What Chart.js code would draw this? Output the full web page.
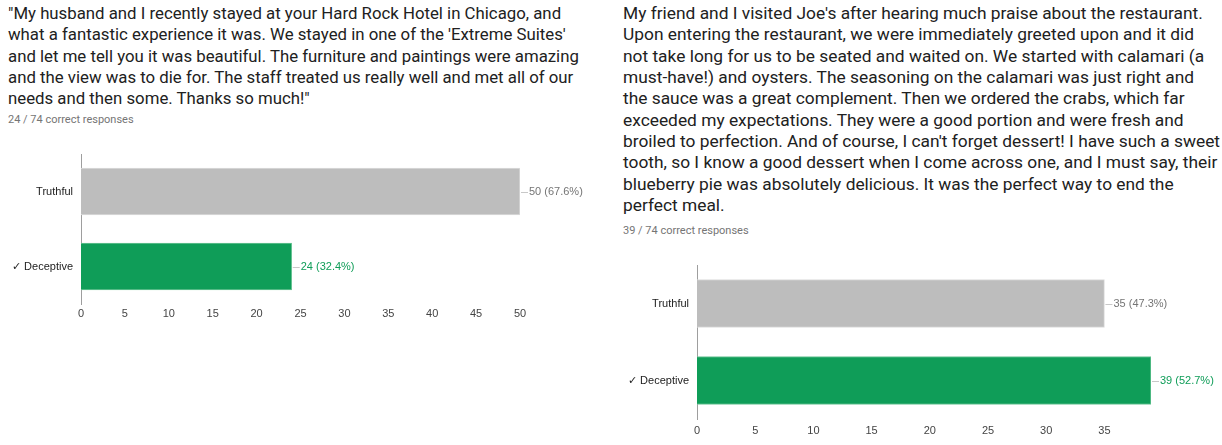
<!DOCTYPE html>
<html>
<head>
<meta charset="utf-8">
<script src="https://cdn.jsdelivr.net/npm/chart.js@4"></script>
<style>
  html, body { margin:0; padding:0; background:#fff; }
  body { width:1222px; height:445px; position:relative; overflow:hidden; }
  .para { position:absolute; font-family: Roboto, "Noto Sans", sans-serif; line-height:21.33px; color:#212121; white-space:nowrap; }
  .resp { position:absolute; font-family: Roboto, "Noto Sans", sans-serif; font-size:11px; color:#757575; white-space:nowrap; }
  canvas.full { position:absolute; left:0; top:0; }
</style>
</head>
<body>
<div class="para" style="left:8px; top:3px; font-size:16.8px;">"My husband and I recently stayed at your Hard Rock Hotel in Chicago, and<br>what a fantastic experience it was. We stayed in one of the 'Extreme Suites'<br>and let me tell you it was beautiful. The furniture and paintings were amazing<br>and the view was to die for. The staff treated us really well and met all of our<br>needs and then some. Thanks so much!"</div>
<div class="resp" style="left:8px; top:113px;">24 / 74 correct responses</div>
<div class="para" style="left:623px; top:3px; font-size:17.35px;">My friend and I visited Joe's after hearing much praise about the restaurant.<br>Upon entering the restaurant, we were immediately greeted upon and it did<br>not take long for us to be seated and waited on. We started with calamari (a<br>must-have!) and oysters. The seasoning on the calamari was just right and<br>the sauce was a great complement. Then we ordered the crabs, which far<br>exceeded my expectations. They were a good portion and were fresh and<br>broiled to perfection. And of course, I can't forget dessert! I have such a sweet<br>tooth, so I know a good dessert when I come across one, and I must say, their<br>blueberry pie was absolutely delicious. It was the perfect way to end the<br>perfect meal.</div>
<div class="resp" style="left:623px; top:224px;">39 / 74 correct responses</div>
<canvas id="c1" class="full" width="1222" height="445"></canvas>
<canvas id="c2" class="full" width="1222" height="445"></canvas>
<script>
const categories = ["Truthful", "\u2713 Deceptive"];
const hotelValues = [50, 24];
const restaurantValues = [35, 39];
const totalResponses = 74;
const hotelAxisMax = 50;
const restaurantAxisMax = 39;

const barColors = ["#bdbdbd", "#0f9d58"];
const barBorders = ["#dcdcdc", "#6cc596"];
const labelColors = ["#757575", "#0f9d58"];

const valueLabelPlugin = {
  id: 'valueLabels',
  afterDatasetsDraw(chart) {
    const ctx = chart.ctx;
    const meta = chart.getDatasetMeta(0);
    const data = chart.data.datasets[0].data;
    ctx.save();
    ctx.font = '11px "Liberation Sans", Arial, sans-serif';
    ctx.textBaseline = 'middle';
    meta.data.forEach((bar, i) => {
      const v = data[i];
      const txt = v + ' (' + (v / totalResponses * 100).toFixed(1) + '%)';
      const x = bar.x, y = bar.y;
      ctx.strokeStyle = '#c8c8c8';
      ctx.lineWidth = 1;
      ctx.beginPath();
      ctx.moveTo(x + 1, Math.round(y) + 0.5);
      ctx.lineTo(x + 8, Math.round(y) + 0.5);
      ctx.stroke();
      ctx.fillStyle = labelColors[i];
      ctx.textAlign = 'left';
      ctx.fillText(txt, x + 9, y);
    });
    ctx.restore();
  }
};

function makeChart(id, values, max, pad, yWidth, xHeight, thickness, tickPad) {
  return new Chart(document.getElementById(id), {
    type: 'bar',
    data: {
      labels: categories,
      datasets: [{
        data: values,
        backgroundColor: barColors,
        borderColor: barBorders,
        borderWidth: 1,
        borderSkipped: 'start',
        barThickness: thickness
      }]
    },
    options: {
      indexAxis: 'y',
      responsive: false,
      animation: false,
      layout: { padding: pad },
      plugins: { legend: { display: false }, tooltip: { enabled: false } },
      scales: {
        x: {
          min: 0, max: max,
          grid: { display: false, drawTicks: false },
          border: { display: false },
          ticks: { stepSize: 5, includeBounds: false, padding: tickPad, color: '#444', font: { family: '"Liberation Sans", Arial, sans-serif', size: 11 }, maxRotation: 0 },
          afterFit(s) { s.height = xHeight; }
        },
        y: {
          grid: { display: false, drawTicks: false },
          border: { display: true, color: '#9e9e9e', width: 1 },
          ticks: { padding: 8, color: '#222', font: { family: '"Liberation Sans", Arial, sans-serif', size: 11 } },
          afterFit(s) { s.width = yWidth; }
        }
      }
    },
    plugins: [valueLabelPlugin]
  });
}

makeChart('c1', hotelValues, hotelAxisMax, { left: 0, top: 154, right: 702, bottom: 116 }, 81, 25, 47, 3);
makeChart('c2', restaurantValues, restaurantAxisMax, { left: 617, top: 265, right: 71, bottom: 1 }, 80, 25, 48, 5);
</script>
</body>
</html>
